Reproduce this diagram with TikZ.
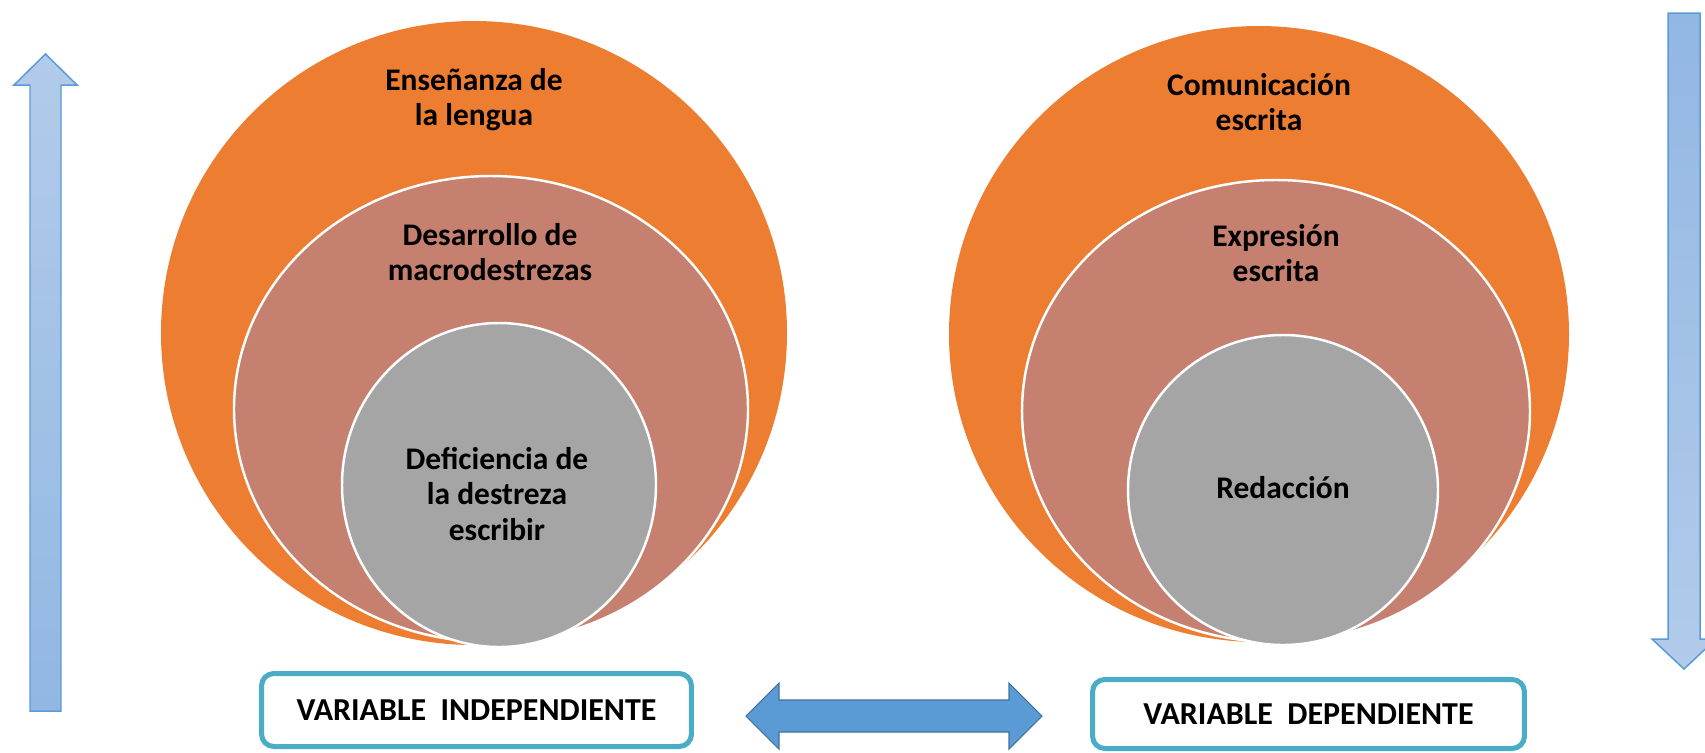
\documentclass[tikz,border=0pt]{standalone}
\usepackage{fontspec}
\setmainfont{Carlito}
\definecolor{naranja}{HTML}{ED7D31}
\definecolor{rosa}{HTML}{C5806F}
\definecolor{gris}{HTML}{A5A5A5}
\definecolor{turquesa}{HTML}{4BACC6}
\definecolor{azul}{HTML}{5B9BD5}
\definecolor{azulosc}{HTML}{41719C}
\definecolor{celeste}{HTML}{B2CBEA}
\definecolor{celesteosc}{HTML}{92B7E3}
\begin{document}
\begin{tikzpicture}[x=0.02cm, y=-0.02cm,
        txt/.style={font=\bfseries\fontsize{17.9pt}{20pt}\selectfont, align=center},
        anillo/.style={draw=white, line width=1.4pt},
        caja/.style={draw=turquesa, line width=2.85pt, rounded corners=7pt, fill=white,
            font=\bfseries\fontsize{18.2pt}{20pt}\selectfont}]
        \useasboundingbox (0,0) rectangle (1705,752);
        \clip (0,0) rectangle (1705,752);

        \shade[top color=celeste, bottom color=celesteosc, draw=azul, line width=0.85pt]
            (30,711) -- (30,85) -- (14,85) -- (45.5,54) -- (77,85) -- (61,85) -- (61,711) -- cycle;
        \shade[top color=celesteosc, bottom color=celeste, draw=azul, line width=0.85pt]
            (1668,13) -- (1700,13) -- (1700,639) -- (1716,639) -- (1684,669) -- (1652,639) -- (1668,639) -- cycle;

        \fill[naranja] (474,333) ellipse (313 and 312);
        \filldraw[fill=rosa, anillo] (491,409) ellipse (257 and 233);
        \filldraw[fill=gris, anillo] (499,485) ellipse (157 and 162);

        \fill[naranja] (1259,334) ellipse (310 and 308);
        \filldraw[fill=rosa, anillo] (1276,411) ellipse (254 and 231);
        \filldraw[fill=gris, anillo] (1283,490) ellipse (155 and 155);

        \node[txt] at (474,100) (ensenanza) {Enseñanza de\\la lengua};
        \node[txt] at (490,252) (desarrollo) {Desarrollo de\\macrodestrezas};
        \node[txt] at (497,494) (deficiencia) {Deficiencia de\\la destreza\\escribir};

        \node[txt] at (1259,102) (comunicacion) {Comunicación\\escrita};
        \node[txt] at (1276,253) (expresion) {Expresión\\escrita};
        \node[txt] at (1283,488) (redaccion) {Redacción};

        \node[caja, minimum width=8.6cm, minimum height=1.46cm] at (476.5,710) (vi) {VARIABLE\ \ INDEPENDIENTE};
        \node[caja, minimum width=8.64cm, minimum height=1.38cm] at (1308.5,714) (vd) {VARIABLE\ \ DEPENDIENTE};

        \filldraw[fill=azul, draw=azulosc, line width=0.6pt]
            (746,716) -- (779,683) -- (779,700) -- (1009,700) -- (1009,683) -- (1042,716)
            -- (1009,749) -- (1009,732) -- (779,732) -- (779,749) -- cycle;
    \end{tikzpicture}
\end{document}
